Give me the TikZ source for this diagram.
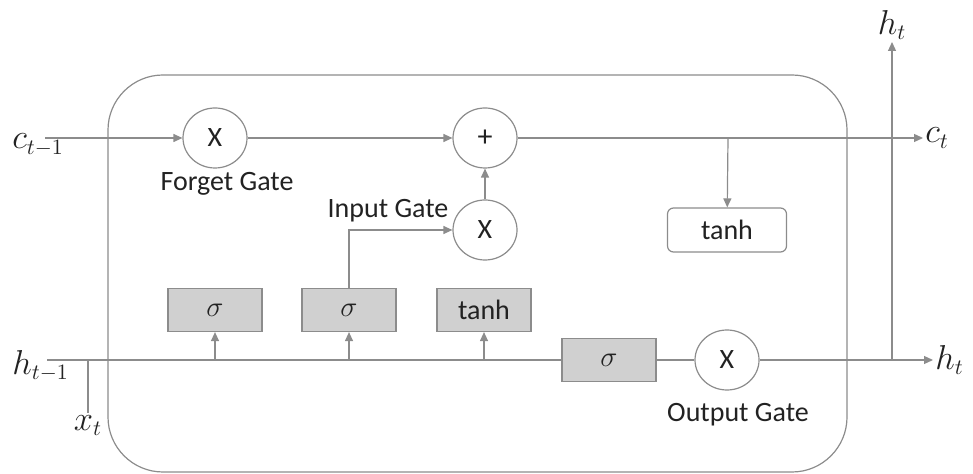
\documentclass[tikz,border=0pt]{standalone}
\usepackage{fontspec}
\setmainfont{Carlito}
\usepackage{amsmath}
\usetikzlibrary{arrows.meta}
\usetikzlibrary{shapes.geometric}
\usetikzlibrary{positioning}

\definecolor{linegray}{HTML}{8C8C8C}
\definecolor{boxgray}{HTML}{D0D0D0}
\definecolor{inkgray}{HTML}{222222}

\begin{document}
\begin{tikzpicture}[x=0.5pt, y=-0.5pt, font=\fontsize{14}{16}\selectfont,
  flow/.style={linegray, line width=0.6pt},
  arr/.style={flow, -{Triangle[length=4.5pt, width=4pt]}},
  gate/.style={ellipse, draw=linegray, line width=0.6pt, fill=white,
    minimum width=32pt, minimum height=30pt, inner sep=0pt, text=inkgray},
  layer/.style={rectangle, draw=linegray, line width=0.6pt, fill=boxgray,
    minimum width=47pt, minimum height=21.5pt, inner sep=0pt, text=inkgray},
  act/.style={rectangle, rounded corners=3pt, draw=linegray, line width=0.6pt,
    fill=white, minimum width=59.5pt, minimum height=22pt, inner sep=0pt, text=inkgray},
  lbl/.style={text=inkgray, inner sep=1pt},
  var/.style={text=inkgray, inner sep=1pt, font=\fontsize{16}{18}\selectfont}]
  \useasboundingbox (0,0) rectangle (973,474);

  % Cell outline
  \draw[flow] (108,75) [rounded corners=27.5pt] rectangle (847,472);

  % Free ends of the two lines
  \coordinate (cin) at (45,138);
  \coordinate (cout) at (923,138);
  \coordinate (ctap) at (728,138);
  \coordinate (hin) at (47,360);
  \coordinate (hout) at (933,360);
  \coordinate (xtap) at (88,360);
  \coordinate (xend) at (88,413);
  \coordinate (htap) at (892,360);
  \coordinate (hup) at (892,42);

  % Gates
  \node[gate] (forget) at (215,138) {X};
  \node[gate] (plus) at (485,138) {\fontsize{15}{16}\selectfont +};
  \node[gate] (inx) at (485,230) {X};
  \node[gate] (outx) at (727,360) {X};

  % Layers
  \node[layer] (sig1) at (215,310) {$\sigma$};
  \node[layer] (sig2) at (349,310) {$\sigma$};
  \node[layer] (tanhl) at (484,310) {tanh};
  \node[layer] (osig) at (609,360) {$\sigma$};
  \node[act] (tanhc) at (727,230) {tanh};

  % Gate labels
  \node[lbl] (flbl) at (227,184) {Forget Gate};
  \node[lbl] (ilbl) at (388,211) {Input Gate};
  \node[lbl] (olbl) at (738,415) {Output Gate};

  % Cell state line
  \draw[arr] (cin) -- (forget);
  \draw[arr] (forget) -- (plus);
  \draw[arr] (plus) -- (cout);
  \draw[arr] (ctap) -- (tanhc);
  \draw[arr] (inx) -- (plus);
  \draw[arr] (sig2.north) |- (inx);

  % Hidden state line
  \draw[flow] (hin) -- (osig);
  \draw[flow] (osig) -- (outx);
  \draw[arr] (outx) -- (hout);
  \draw[flow] (xtap) -- (xend);
  \draw[arr] (htap) -- (hup);
  \draw[arr] (sig1.south |- hin) -- (sig1);
  \draw[arr] (sig2.south |- hin) -- (sig2);
  \draw[arr] (tanhl.south |- hin) -- (tanhl);

  % Variables
  \node[var, anchor=west] (clast) at (10,145) {$c_{t-1}$};
  \node[var, anchor=west] (cnext) at (cout) {$c_t$};
  \node[var, anchor=west] (hlast) at (10,366) {$h_{t-1}$};
  \node[var, anchor=west] (hnext) at (hout) {$h_t$};
  \node[var, anchor=north] (xnow) at (xend) {$x_t$};
  \node[var, anchor=south] (htop) at (hup) {$h_t$};

\end{tikzpicture}
\end{document}
